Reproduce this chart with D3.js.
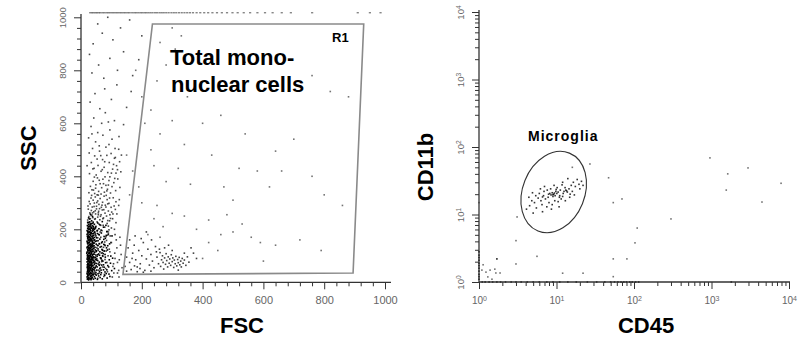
<!DOCTYPE html>
<html lang="en">
<head>
<meta charset="UTF-8">
<title>Microglia gating</title>
<style>
  body { margin: 0; background: #fff; }
  svg { display: block; font-family: "Liberation Sans", Arial, sans-serif; }
</style>
</head>
<body>
<script src="https://cdn.jsdelivr.net/npm/d3@7"></script>
<script>
// ---------- left panel: FSC / SSC (linear 0-1000) ----------
var linMajor = [0, 200, 400, 600, 800, 1000];

// dense debris core at low FSC
var coreCells = [
  [21,12],[23,25],[25,9],[26,18],[28,28],[30,14],[31,22],[33,10],[35,26],[37,17],[39,29],[41,12],[44,21],[47,15],[50,27],[54,11],[58,24],[63,18],[70,13],[78,26],[86,16],[95,22],
  [20,34],[22,45],[24,38],[26,49],[27,31],[29,42],[31,36],[32,47],[34,33],[36,44],[38,39],[40,48],[43,35],[45,43],[49,37],[52,46],[56,32],[61,41],[67,36],[74,47],[83,33],[101,44],
  [21,55],[22,66],[24,52],[25,61],[27,69],[28,57],[30,64],[32,53],[33,68],[35,59],[37,51],[39,63],[41,56],[44,67],[46,54],[50,62],[53,58],[57,69],[62,52],[68,65],[76,57],[88,63],
  [20,77],[22,86],[23,72],[25,81],[27,75],[28,89],[30,79],[32,73],[34,85],[35,78],[37,88],[40,74],[42,83],[45,77],[48,87],[51,71],[55,82],[60,76],[66,89],[72,80],[81,74],[93,85],
  [21,95],[22,104],[24,92],[26,99],[27,108],[29,93],[31,102],[33,97],[34,109],[36,91],[38,101],[41,96],[43,106],[46,94],[49,103],[53,98],[58,107],[64,92],[71,100],[79,105],
  [20,114],[22,124],[23,118],[25,128],[27,112],[29,121],[30,116],[32,127],[34,111],[36,123],[38,117],[41,129],[44,113],[47,122],[51,119],[56,126],[62,115],[69,124],[77,118],
  [21,134],[22,145],[24,138],[26,149],[28,131],[29,142],[31,136],[33,147],[35,133],[37,141],[40,137],[42,148],[46,132],[50,144],[54,139],[60,146],[67,135],[75,143],[88,138],
  [20,155],[22,164],[24,158],[25,169],[27,152],[29,161],[31,167],[33,156],[35,163],[38,151],[40,166],[43,159],[47,154],[51,168],[56,157],[62,163],[70,153],[80,166],
  [21,174],[23,185],[24,178],[26,189],[28,172],[30,181],[32,176],[34,187],[36,173],[39,183],[42,177],[45,188],[49,175],[54,184],[60,179],[67,186],[76,173],[90,182],
  [20,195],[22,204],[24,198],[26,209],[28,192],[30,201],[32,196],[35,207],[37,193],[40,203],[44,199],[48,206],[53,194],[59,202],[66,197],[74,208],[85,191],
  [21,214],[23,225],[25,218],[27,212],[29,228],[31,216],[34,222],[37,213],[40,227],[44,219],[49,211],[55,224],[62,217],[70,229],[82,215],
  [20,20],[21,40],[22,60],[23,80],[24,100],[25,120],[26,140],[27,160],[28,180],[29,200],[30,220],
  [21,30],[22,50],[23,70],[24,90],[25,110],[26,130],[27,150],[28,170],[29,190],[30,210],
  [31,15],[32,35],[33,55],[34,75],[35,95],[36,115],[37,135],[38,155],[39,175],[40,195],
  [33,25],[34,45],[35,65],[36,85],[37,105],[38,125],[39,145],[40,165],[41,185],[42,205],
  [19,110],[20,130],[21,150],[22,170],[23,190],[24,210],[20,88],[21,66],[22,22],[23,44],
  [26,12],[27,33],[28,54],[29,77],[30,98],[31,119],[32,141],[33,162],[34,183],[35,204],
  [36,20],[37,42],[38,63],[39,84],[41,106],[42,127],[43,148],[44,169],[45,190],[24,16],
  [25,36],[26,57],[27,79],[28,101],[29,122],[30,143],[31,164],[32,186],[33,207],[34,14],
  [42,30],[44,50],[46,72],[48,94],[50,116],[43,138],[45,160],[47,182],[39,222],[26,226],
  [22,13],[24,27],[26,41],[28,63],[31,84],[23,97],[25,133],[27,171],[30,188],[32,219],
  [21,58],[23,149],[26,203],[29,111],[33,132],[36,71],[39,48],[42,92],[45,113],[48,31],
  [52,88],[56,139],[61,102],[66,46],[71,121],[75,162],[80,95],[84,130],[91,58],[98,99],
  [20,181],[22,226],[25,243],[28,239],[31,257],[35,232],[38,248],[41,211],[46,203],[51,156],
  [54,196],[58,181],[63,133],[68,149],[73,108],[78,141],[83,177],[87,122],[94,145],[102,175],
  [24,66],[27,88],[30,52],[33,118],[36,158],[40,28],[43,79],[47,57],[50,84],[55,104],
  [60,64],[65,29],[69,83],[74,66],[79,39],[85,47],[92,31],[97,72],[104,91],[110,52],
  [21,102],[23,121],[25,84],[27,46],[29,31],[31,63],[33,87],[35,140],[37,171],[39,199],
  [22,191],[24,172],[26,163],[28,127],[30,157],[32,105],[34,66],[36,33],[38,94],[40,118]
];

// looser fringe to the right of the core
var fringeCells = [
  [55,15],[60,35],[64,55],[68,78],[72,98],[76,118],[80,138],[84,158],[88,178],[92,198],
  [58,46],[62,68],[66,92],[70,112],[74,132],[78,152],[82,172],[86,192],[90,212],[94,232],
  [57,120],[61,145],[65,170],[69,195],[73,215],[77,30],[81,52],[85,75],[89,100],[93,125],
  [98,150],[103,20],[107,70],[111,110],[116,160],[120,35],[126,85],[130,140],[96,175],[100,205],
  [52,130],[55,168],[59,220],[63,190],[67,110],[71,58],[75,22],[79,86],[83,118],[87,40],
  [47,240],[53,228],[57,255],[65,215],[72,240],[78,208],[86,222],[95,255],[104,240],[112,180]
];

// plume above the core, up the SSC axis
var plumeCells = [
  [22,235],[26,248],[29,262],[31,240],[34,271],[36,254],[39,244],[42,266],[45,238],[48,258],[51,277],[55,246],[58,268],[62,236],[66,255],[70,273],[74,243],[79,261],[84,250],[90,269],[97,241],[105,258],[113,275],[24,276],[33,252],[47,270],[64,249],[88,233],
  [23,288],[27,305],[30,296],[33,318],[37,284],[40,310],[44,299],[47,322],[51,287],[55,307],[59,294],[63,316],[67,283],[71,302],[76,325],[80,291],[86,312],[92,298],[99,283],[106,319],[115,304],[124,290],[35,328],[57,329],[83,328],
  [26,338],[31,362],[36,349],[40,381],[45,335],[49,368],[54,394],[58,343],[63,372],[68,357],[72,389],[77,340],[82,366],[87,351],[92,384],[97,337],[102,361],[108,376],[114,346],[121,390],[128,358],[44,397],[66,333],[95,398],[111,392],
  [28,410],[34,452],[39,428],[45,477],[50,405],[56,441],[61,495],[66,419],[71,463],[76,434],[82,510],[88,414],[93,452],[99,486],[104,427],[110,468],[117,440],[124,502],[131,417],[38,505],[60,515],[85,479],[115,412],[20,440],[27,488],
  [25,545],[33,588],[42,620],[55,565],[68,600],[80,640],[95,575],[110,610],[125,550],[140,595],[30,680],[46,712],[62,655],[78,730],[100,690],[118,745],[150,660],[165,720],
  [36,790],[58,820],[75,770],[95,845],[120,800],[140,870],[170,780],[190,840],[40,900],[70,940],[105,915],[130,960],[160,990],[200,930],[28,860],[88,1000],[55,975],
  [105,60],[112,90],[118,130],[124,45],[128,170],[132,105],[110,200],[120,75],[100,150],[95,115],[108,35],[125,20],[135,55],[90,190],[115,225],
  [38,262],[43,286],[52,301],[57,262],[61,278],[69,291],[75,274],[82,284],[88,296],[94,318],
  [101,265],[109,288],[118,258],[126,312],[41,348],[48,355],[53,330],[60,385],[74,372],[79,398],
  [85,345],[90,367],[100,412],[107,445],[113,471],[120,425],[127,455],[133,480],[70,425],[78,455],
  [53,465],[43,430],[65,478],[92,520],[102,540],[112,505],[36,560],[48,530],[72,555],[90,605]
];

// lymphocyte / mononuclear cluster
var lymphoCells = [
  [145,60],[150,95],[155,130],[160,75],[165,48],[170,110],[175,140],[180,85],[185,58],[190,120],[195,70],[200,100],[205,150],[210,45],[215,88],[220,125],[225,65],[230,105],[235,80],[240,55],
  [245,135],[250,95],[255,70],[260,112],[262,60],[265,85],[268,100],[270,75],[272,50],[275,92],[278,68],[280,108],[282,82],[285,58],[287,96],[290,72],[292,88],[295,64],[297,104],[300,78],
  [302,92],[305,56],[307,84],[310,70],[312,98],[315,62],[318,86],[320,74],[323,94],[325,66],[328,80],[330,58],[333,90],[336,72],[340,84],[345,64],[350,96],[355,76],[362,130],[370,110],
  [380,90],[160,160],[178,175],[198,165],[215,190],[232,160],[288,140],[248,115],[258,125],[275,130],[300,120],[340,110],[185,40],[205,38],[230,42],[320,46],[150,42],[168,90],[176,62],[194,52]
];

// scattered events inside the gate
var sparseCells = [
  [300,960],[330,930],[310,880],[260,905],[280,820],[250,760],[350,700],[230,650],[300,610],[400,600],[460,630],[540,560],[260,560],[340,520],[230,500],[430,480],[520,430],[700,540],[640,495],[580,420],
  [240,440],[320,430],[280,380],[360,370],[470,360],[500,310],[620,360],[660,420],[760,400],[800,330],[860,290],[880,700],[820,720],[760,780],[540,830],[620,760],[180,800],[200,700],[210,600],[150,480],
  [170,420],[190,360],[160,330],[200,300],[250,290],[300,260],[340,250],[420,235],[480,255],[530,220],[460,180],[500,190],[560,170],[590,150],[640,140],[720,160],[790,120],[420,150],[380,200],[270,210],
  [240,240],[220,180],[260,170],[450,120],[400,90],[600,80]
];

// events saturated at the top of the SSC range
var topFsc = [30,36,41,47,52,58,63,70,76,83,89,95,102,108,115,121,128,134,141,147,154,160,168,175,181,188,195,201,208,214,221,228,235,243,250,258,265,272,280,288,297,305,313,322,331,340,349,358,368,380,392,405,418,432,447,463,480,498,515,535,556,580,605,630,660,690,760,910,950,985];
var topSsc = 1017;

// gate R1 (FSC, SSC)
var gateR1 = [[235,975],[930,975],[895,35],[138,30]];

// ---------- right panel: CD45 / CD11b (log 10^0-10^4) ----------
var logMajor = [1, 10, 100, 1000, 10000];

var microgliaCells = [
  [9.2,20],[9.6,19],[8.8,21],[10.1,20.5],[9.0,18.5],[8.5,19.5],[10.5,21.5],[9.8,22],[8.2,20.5],[11.0,19],[7.8,18],[12.5,22],[13.2,23],[13.8,21.5],[12.9,25],[14.5,24],
  [7.2,17],[6.8,19],[6.3,16],[5.8,17.5],[5.2,15],[4.8,16],[4.5,13.5],[5.5,12.5],[6.5,14],[7.5,13],[8.0,15],[8.8,14],[9.5,16],[10.5,15.5],[11.5,17],[12.0,18.5],
  [11.2,23],[10.2,25],[9.3,27],[8.4,24],[7.6,23],[6.9,22],[6.0,20.5],[5.4,19],[4.9,21],[15.5,27],[16.5,30],[17.5,26],[18.5,33],[15.0,20],[16.0,22],[19.5,28],
  [21,31],[14,34],[12,30],[7.0,26],[6.2,24],[4.4,18],[4.1,12],[5.0,10.5],[6.6,11],[8.6,12],[10.8,13],[13,16],[14.8,18],[17,19.5],[20,24],[22,27],
  [11.8,27.5],[9.9,23.5],[7.9,20],[6.6,18.2],[10.9,18],[12.2,20.5],[9.4,20.8],[9.0,19.6],[13.5,22.4]
];

var otherCells = [
  [955,69],[2960,49],[1620,40],[7900,29],[1550,23],[4480,15.3],[300,8.6],[110,6.3],[103,3.8],[70,17],[54,15],[47,35],[27,56],[3.1,9.2],[3.0,4.1],[5.6,2.4],[3.0,1.85],[1.7,2.2],
  [12,1.35],[22,1.35],[54,2.2],[81,2.2],[54,1.2],[1.0,15],[16,50],
  [1.13,1.8],[1.23,1.4],[1.39,1.5],[1.6,1.55],[1.65,1.36],[1.7,2.2],[1.87,1.36],[1.09,1.5],[1.3,1.19],[1.47,1.1]
];

// events piled on the axes (value 10^0)
var onYAxis = [1.1,1.2,1.3,1.45,1.6,1.75,1.9,2.1,2.3,2.5,2.8];
var onXAxis = [1.1,1.2,1.35,1.5,1.7,1.9,2.2,2.6,3.0,3.5,4.2,5,6,7.5,9,11,14,18,25,33,42,50,56,62,68,74,80,88,95,105,115,1800];

// microglia gate centre (CD45, CD11b)
var microgliaGate = [9.2, 21.5];

// ---------- drawing ----------
var svg = d3.select("body").append("svg").attr("width", 800).attr("height", 348);
svg.append("rect").attr("width", 800).attr("height", 348).attr("fill", "#fff");

function styleAxis(g, size) {
  g.select(".domain").remove();
  g.selectAll(".tick line").attr("stroke", "#333");
  g.selectAll(".tick text").attr("fill", "#666").attr("font-size", size)
    .attr("font-family", '"Liberation Sans", Arial, sans-serif');
}

function dots(g, data, xs, ys, op) {
  g.append("g").selectAll("rect").data(data).join("rect")
    .attr("x", function(d) { return xs(d[0]) - 0.8; })
    .attr("y", function(d) { return ys(d[1]) - 0.8; })
    .attr("width", 1.6).attr("height", 1.6)
    .attr("fill", "#000").attr("fill-opacity", op);
}

// left panel
var xL = d3.scaleLinear().domain([0, 1000]).range([81, 385]);
var yL = d3.scaleLinear().domain([0, 1000]).range([282.3, 17.3]);
var linMinor = d3.range(0, 1001, 40).filter(function(v) { return v % 200 !== 0; });

var left = svg.append("g");
dots(left, sparseCells, xL, yL, 0.55);
dots(left, plumeCells, xL, yL, 0.7);
dots(left, lymphoCells, xL, yL, 0.75);
dots(left, fringeCells, xL, yL, 0.75);
dots(left, coreCells, xL, yL, 1);

left.append("g").selectAll("rect").data(topFsc).join("rect")
  .attr("x", function(d) { return xL(d) - 1; })
  .attr("y", yL(topSsc) - 0.5)
  .attr("width", 2.2).attr("height", 1)
  .attr("fill", "#555");

left.append("g").attr("transform", "translate(0," + yL(0) + ")")
  .call(d3.axisBottom(xL).tickValues(linMinor).tickSize(4).tickFormat(""))
  .call(styleAxis, 11);
left.append("g").attr("transform", "translate(0," + yL(0) + ")")
  .call(d3.axisBottom(xL).tickValues(linMajor).tickSize(7).tickPadding(7).tickFormat(d3.format("d")))
  .call(styleAxis, 11);

left.append("g").attr("transform", "translate(" + xL(0) + ",0)")
  .call(d3.axisLeft(yL).tickValues(linMinor).tickSize(4).tickFormat(""))
  .call(styleAxis, 9.5);
var yLeftMajor = left.append("g").attr("transform", "translate(" + xL(0) + ",0)")
  .call(d3.axisLeft(yL).tickValues(linMajor).tickSize(7).tickFormat(d3.format("d")))
  .call(styleAxis, 9.5);
yLeftMajor.selectAll(".tick text")
  .attr("x", 0).attr("dy", 0).attr("text-anchor", "middle")
  .attr("transform", "translate(-15,0) rotate(-90)");

left.append("line").attr("x1", xL(0)).attr("x2", xL(0)).attr("y1", 14).attr("y2", yL(0))
  .attr("stroke", "#333").attr("stroke-width", 1.3);
left.append("line").attr("x1", xL(0)).attr("x2", 391).attr("y1", yL(0)).attr("y2", yL(0))
  .attr("stroke", "#333").attr("stroke-width", 1.3);

left.append("path")
  .attr("d", d3.line().x(function(d) { return xL(d[0]); }).y(function(d) { return yL(d[1]); })(gateR1) + "Z")
  .attr("fill", "none").attr("stroke", "#8a8a8a").attr("stroke-width", 1.6);

left.append("text").attr("x", 332).attr("y", 41.5).attr("font-size", 13).attr("font-weight", "bold").text("R1");
left.append("text").attr("x", 170).attr("y", 65).attr("font-size", 22).attr("font-weight", "bold").text("Total mono-");
left.append("text").attr("x", 171).attr("y", 92).attr("font-size", 22).attr("font-weight", "bold").text("nuclear cells");

left.append("text").attr("x", 242).attr("y", 333).attr("text-anchor", "middle")
  .attr("font-size", 22).attr("font-weight", "bold").text("FSC");
left.append("text").attr("transform", "translate(36,148) rotate(-90)").attr("text-anchor", "middle")
  .attr("font-size", 22).attr("font-weight", "bold").text("SSC");

// right panel
var xR = d3.scaleLog().domain([1, 10000]).range([479, 789]);
var yR = d3.scaleLog().domain([1, 10000]).range([282, 12]);
var logMinor = [];
[1, 10, 100, 1000].forEach(function(p) {
  for (var k = 2; k <= 9; k++) logMinor.push(k * p);
});

function powLabel(sel) {
  sel.each(function(d) {
    var t = d3.select(this);
    t.text(null);
    t.append("tspan").text("10");
    t.append("tspan").attr("dy", "-0.5em").attr("font-size", "0.7em").text(Math.round(Math.log10(d)));
  });
}

var right = svg.append("g");
dots(right, otherCells, xR, yR, 0.55);
dots(right, microgliaCells, xR, yR, 0.8);
dots(right, onYAxis.map(function(v) { return [1, v]; }), xR, yR, 0.9);
dots(right, onXAxis.map(function(v) { return [v, 1]; }), xR, yR, 0.9);

right.append("g").attr("transform", "translate(0," + yR(1) + ")")
  .call(d3.axisBottom(xR).tickValues(logMinor).tickSize(4).tickFormat(""))
  .call(styleAxis, 10);
var xRightMajor = right.append("g").attr("transform", "translate(0," + yR(1) + ")")
  .call(d3.axisBottom(xR).tickValues(logMajor).tickSize(7).tickPadding(8))
  .call(styleAxis, 10);
xRightMajor.selectAll(".tick text").call(powLabel);

right.append("g").attr("transform", "translate(" + xR(1) + ",0)")
  .call(d3.axisLeft(yR).tickValues(logMinor).tickSize(4).tickFormat(""))
  .call(styleAxis, 9.5);
var yRightMajor = right.append("g").attr("transform", "translate(" + xR(1) + ",0)")
  .call(d3.axisLeft(yR).tickValues(logMajor).tickSize(7))
  .call(styleAxis, 9.5);
yRightMajor.selectAll(".tick text")
  .attr("x", 0).attr("dy", 0).attr("text-anchor", "middle")
  .attr("transform", "translate(-15,0) rotate(-90)")
  .call(powLabel);

right.append("line").attr("x1", xR(1)).attr("x2", xR(1)).attr("y1", 10).attr("y2", yR(1))
  .attr("stroke", "#333").attr("stroke-width", 1.3);
right.append("line").attr("x1", xR(1)).attr("x2", 790).attr("y1", yR(1)).attr("y2", yR(1))
  .attr("stroke", "#333").attr("stroke-width", 1.3);

right.append("ellipse")
  .attr("transform", "translate(" + xR(microgliaGate[0]) + "," + yR(microgliaGate[1]) + ") rotate(22)")
  .attr("rx", 31).attr("ry", 42)
  .attr("fill", "none").attr("stroke", "#333").attr("stroke-width", 1.1);

right.append("text").attr("x", 528).attr("y", 140.5).attr("font-size", 14).attr("letter-spacing", 1)
  .attr("font-weight", "bold").text("Microglia");

right.append("text").attr("x", 646).attr("y", 333).attr("text-anchor", "middle")
  .attr("font-size", 22).attr("font-weight", "bold").text("CD45");
right.append("text").attr("transform", "translate(433,167) rotate(-90)").attr("text-anchor", "middle")
  .attr("font-size", 22).attr("font-weight", "bold").text("CD11b");
</script>
</body>
</html>
